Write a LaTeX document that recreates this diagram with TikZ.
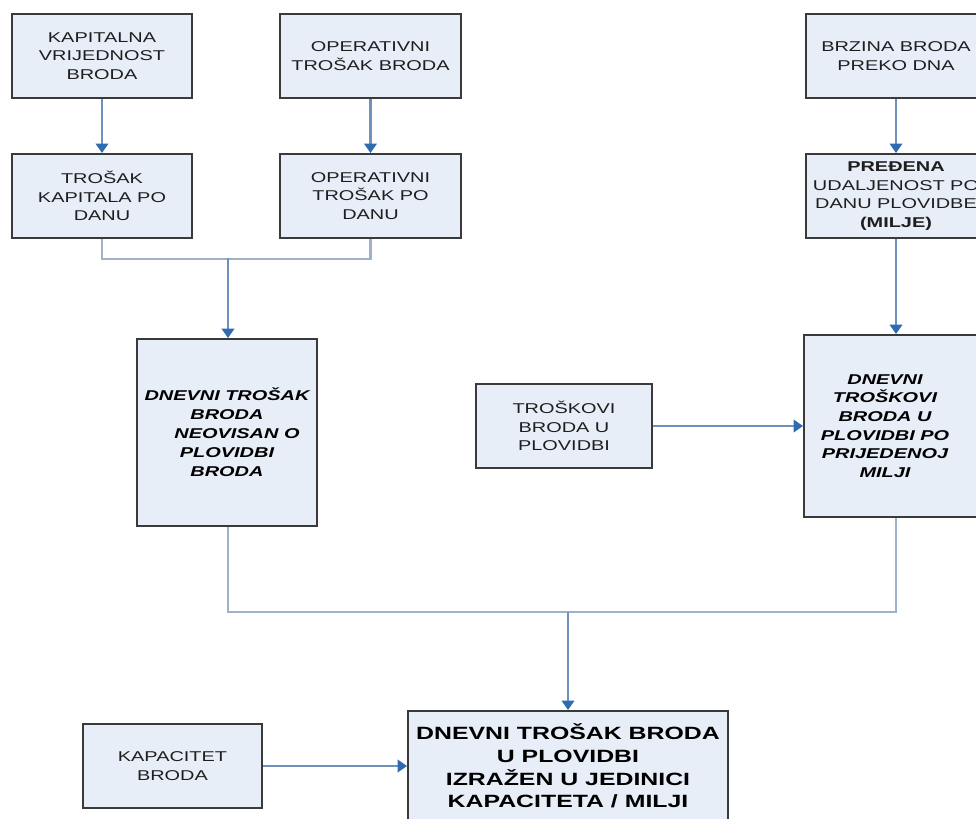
\documentclass[tikz,border=0pt]{standalone}
\usepackage{fontspec}
\setmainfont{Liberation Sans}
\newfontfamily\wf[FakeStretch=1.4]{Liberation Sans}
\usetikzlibrary{arrows.meta}
\definecolor{boxfill}{HTML}{E8EEF8}
\definecolor{boxdraw}{HTML}{3A3A3A}
\definecolor{textc}{HTML}{1E1E1E}
\definecolor{linec}{HTML}{6F92BC}
\definecolor{mergec}{HTML}{9EB2CA}
\definecolor{arrowc}{HTML}{2F6BB0}
\tikzset{
  box/.style={draw=boxdraw, line width=1.1pt, fill=boxfill, inner sep=0pt, align=center,
    text=textc, font=\wf\fontsize{8.1}{10.5}\selectfont},
  sbox/.style={box, minimum width=3.6cm, minimum height=1.68cm},
  bitext/.style={inner sep=0pt, align=center, text=black, font=\wf\fontsize{8.1}{10.6}\selectfont\bfseries\itshape},
  arr/.style={draw=linec, line width=1.3pt, -{Triangle[width=0.25cm,length=0.19cm,color=arrowc]}},
  merge/.style={draw=mergec, line width=1.3pt}
}
\begin{document}
\begin{tikzpicture}[x=0.02cm,y=-0.02cm]
\path[use as bounding box] (0,0) rectangle (976,818);
\clip (0,0) rectangle (976,818);
\fill[white] (0,0) rectangle (976,818);
% nodes
\node[sbox] (b1) at (102,56) {KAPITALNA\\VRIJEDNOST\\BRODA};
\node[sbox, minimum width=3.62cm] (b2) at (370.5,56) {OPERATIVNI\\TROŠAK BRODA};
\node[sbox] (b3) at (102,196) {TROŠAK\\KAPITALA PO\\DANU};
\node[sbox, minimum width=3.62cm] (b4) at (370.5,196) {OPERATIVNI\\TROŠAK PO\\DANU};
\node[box, minimum width=3.6cm, minimum height=3.74cm, text=black,
  font=\wf\fontsize{8.1}{10.8}\selectfont\bfseries\itshape] (b5) at (227,432.5)
  {DNEVNI TROŠAK\\BRODA\\\hspace*{0.4cm}NEOVISAN O\\PLOVIDBI\\BRODA};
\node[sbox] (r1) at (896,56) {BRZINA BRODA\\PREKO DNA};
\node[sbox] (r2) at (896,196) {\textbf{PREĐENA}\\UDALJENOST PO\\DANU PLOVIDBE\\\textbf{(MILJE)}};
\node[box, minimum width=3.64cm, minimum height=3.64cm] (r3) at (895,426) {};
\node[bitext] (r3t) at (885,426) {DNEVNI\\TROŠKOVI\\BRODA U\\PLOVIDBI PO\\PRIJEDENOJ\\MILJI};
\node[box, minimum width=3.52cm, minimum height=1.68cm] (m) at (564,426) {TROŠKOVI\\BRODA U\\PLOVIDBI};
\node[box, minimum width=3.58cm, minimum height=1.68cm] (k) at (172.5,766) {KAPACITET\\BRODA};
\node[box, minimum width=6.4cm, minimum height=2.2cm, text=black,
  font=\wf\fontsize{10.1}{12.9}\selectfont\bfseries] (f) at (568,766)
  {DNEVNI TROŠAK BRODA\\U PLOVIDBI\\IZRAŽEN U JEDINICI\\KAPACITETA / MILJI};
% connectors
\draw[arr] (b1) -- (b3);
\draw[arr] (b2) -- (b4);
\draw[merge] (b3.south) -- ++(0,20) -| (b4.south);
\coordinate (j1) at (228,258);
\draw[arr] (j1) -- (b5.north -| j1);
\draw[arr] (r1) -- (r2);
\draw[arr] (r2.south) -- (r3.north -| r2.south);
\draw[arr] (m.east) -- (m.east -| r3.west);
\coordinate (j3) at (228,612);
\coordinate (j4) at (896,612);
\draw[merge] (b5.south -| j3) -- (j3) -- (j4) -- (r3.south -| j4);
\coordinate (j2) at (568,612);
\draw[arr] (j2) -- (f.north);
\draw[arr] (k.east) -- (k.east -| f.west);
\end{tikzpicture}
\end{document}
